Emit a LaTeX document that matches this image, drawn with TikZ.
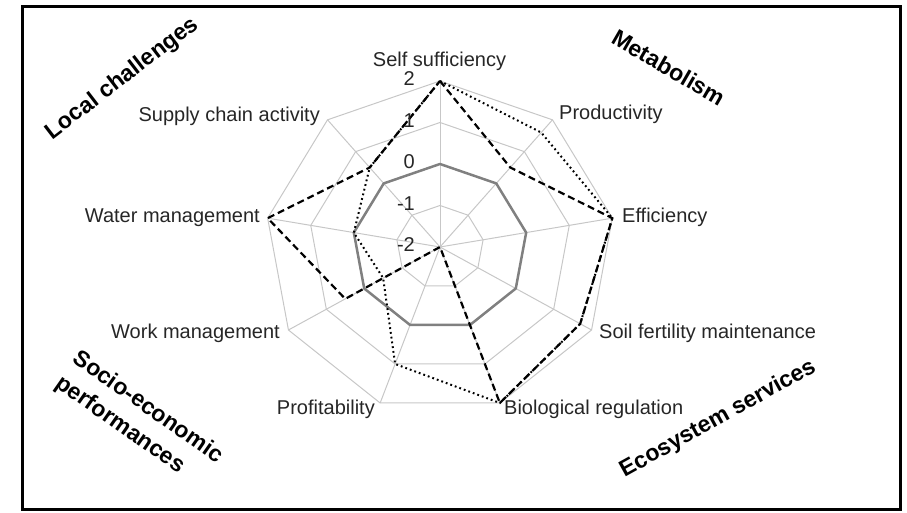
\documentclass[tikz,border=0pt]{standalone}
\usepackage{fontspec}
\setmainfont{Liberation Sans}
\tikzset{
  axislabel/.style={font=\fontsize{20}{24}\selectfont, text=black!85, inner sep=0pt},
  grouplabel/.style={font=\fontsize{23}{30}\selectfont\bfseries, inner sep=0pt, align=left},
  webline/.style={draw=black!22, line width=1pt},
}
\begin{document}
\begin{tikzpicture}[x=1pt,y=1pt]
\useasboundingbox (0,0) rectangle (907,513);
\draw [line width=3pt] (22,3) rectangle (900,506);

\begin{scope}[shift={(440pt,266pt)}, x=175pt, y=166pt]
% web
\foreach \r in {0.25,0.5,0.75,1}
  \draw [webline] (90:\r) \foreach \a in {130,170,...,410} {-- (\a:\r)} -- cycle;
\foreach \a in {90,50,...,-230}
  \draw [webline] (0,0) -- (\a:1);
% scores
\foreach \v [count=\i] in {2,0.5,2,1.7,2,-2,0.5,2,0.5}
  \coordinate (da\i) at ({130-40*\i}:{(\v+2)/4});
\foreach \v [count=\i] in {2,1.6,2,1.7,2,1,-0.5,0,0.5}
  \coordinate (do\i) at ({130-40*\i}:{(\v+2)/4});
\draw [black!50, line width=2.5pt, line join=round] (90:0.5) \foreach \a in {130,170,...,410} {-- (\a:0.5)} -- cycle;
\draw [line width=2pt, dash pattern=on 1.8pt off 3pt] (do1) \foreach \i in {2,...,9} {-- (do\i)} -- cycle;
\draw [line width=2.2pt, dash pattern=on 7pt off 4pt] (da1) \foreach \i in {2,...,9} {-- (da\i)} -- cycle;
% scale
\foreach \t in {-2,-1,0,1,2}
  \node [axislabel, anchor=base east, xshift=-25pt, yshift=-5pt] (tick\t) at (0,{(\t+2)/4}) {\t};
\end{scope}

\node [axislabel, anchor=base] (selfsuff) at (439.5,446) {Self sufficiency};
\node [axislabel, anchor=base west] (prod) at (559,393) {Productivity};
\node [axislabel, anchor=base west] (effic) at (622,290) {Efficiency};
\node [axislabel, anchor=base west] (soil) at (599,174) {Soil fertility maintenance};
\node [axislabel, anchor=base west] (bioreg) at (504,98) {Biological regulation};
\node [axislabel, anchor=base east] (profit) at (375,98) {Profitability};
\node [axislabel, anchor=base east] (work) at (280,174) {Work management};
\node [axislabel, anchor=base east] (water) at (260,290) {Water management};
\node [axislabel, anchor=base east] (supply) at (320,391) {Supply chain activity};

\node [grouplabel, rotate=37.5] (local) at (122.5,434) {Local challenges};
\node [grouplabel, rotate=-30] (metab) at (669,445.5) {Metabolism};
\node [grouplabel, rotate=-35] (socio) at (139,93) {Socio-economic\\performances};
\node [grouplabel, rotate=29] (eco) at (718,94) {Ecosystem services};
\end{tikzpicture}
\end{document}
